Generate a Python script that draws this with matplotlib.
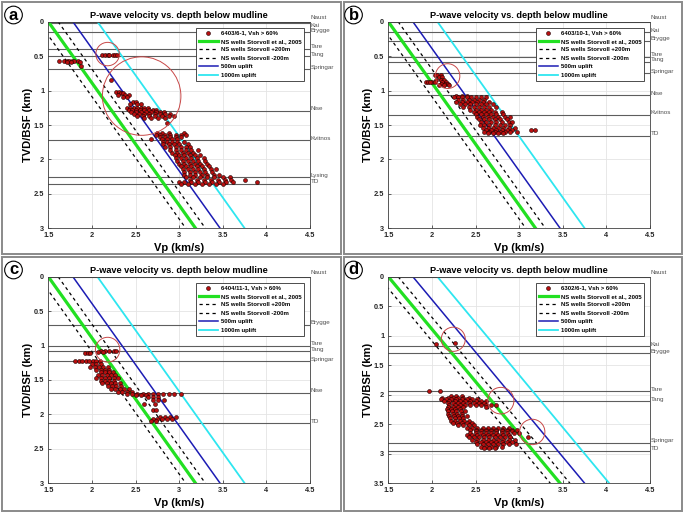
import numpy as np
import matplotlib
matplotlib.use("Agg")
import matplotlib.pyplot as plt
from matplotlib.patches import Ellipse, Rectangle

plt.rcParams['font.family'] = ['Liberation Sans', 'DejaVu Sans']

# ---------------- data ----------------
well_names = ['6403/6-1', '6403/10-1', '6404/11-1', '6302/6-1']
panel_letters = ['a', 'b', 'c', 'd']
depth_max = [3.0, 3.0, 3.0, 3.5]

# Storvoll et al. (2005) NS wells trend (end points)
trend_z = [0.0, 3.5]
trend_vp = [1.5, 3.47]
shift_plus200 = 0.2
shift_minus200 = -0.2
uplift_500 = 0.5
uplift_1000 = 1.0

# formation tops (depth km)
tops_a_names = ['Naust', 'Kai', 'Brygge', 'Tare', 'Tang', 'Springar', 'Nise', 'Kvitnos', 'Lysing', 'TD']
tops_a_depth = [0.0, 0.02, 0.155, 0.39, 0.50, 0.69, 1.295, 1.72, 2.26, 2.35]
tops_b_names = ['Naust', 'Kai', 'Brygge', 'Tare', 'Tang', 'Springar', 'Nise', 'Kvitnos', 'TD']
tops_b_depth = [0.0, 0.155, 0.275, 0.51, 0.58, 0.75, 1.07, 1.35, 1.655]
tops_c_names = ['Naust', 'Brygge', 'Tare', 'Tang', 'Springar', 'Nise', 'TD']
tops_c_depth = [0.0, 0.70, 1.0, 1.08, 1.23, 1.685, 2.13]
tops_d_names = ['Naust', 'Kai', 'Brygge', 'Tare', 'Tang', 'Springar', 'TD']
tops_d_depth = [0.0, 1.175, 1.30, 1.94, 2.11, 2.81, 2.95]

# log samples, Vsh > 60 %: rows of (depth km, [Vp km/s ...])
rows_a = [
    (0.57, [1.62, 1.68, 1.71, 1.74, 1.77, 1.80, 1.84]),
    (0.58, [1.72, 1.76, 1.86]),
    (0.65, [1.88]),
    (0.48, [2.12, 2.15, 2.18, 2.24, 2.27]),
    (0.49, [2.20, 2.29]),
    (0.85, [2.22]),
    (1.02, [2.28, 2.31]),
    (1.04, [2.33, 2.36]),
    (1.07, [2.30, 2.38, 2.42]),
    (1.10, [2.36, 2.40]),
    (1.16, [2.47, 2.50]),
    (1.19, [2.44, 2.52, 2.56]),
    (1.25, [2.40, 2.44, 2.48, 2.52, 2.56, 2.60, 2.64]),
    (1.28, [2.42, 2.46, 2.50, 2.55, 2.60, 2.65, 2.70, 2.74]),
    (1.31, [2.45, 2.50, 2.56, 2.62, 2.68, 2.73, 2.78, 2.83]),
    (1.34, [2.48, 2.54, 2.60, 2.66, 2.72, 2.78, 2.84, 2.90]),
    (1.37, [2.52, 2.58, 2.65, 2.72, 2.80, 2.88, 2.94]),
    (1.40, [2.60, 2.68, 2.76, 2.84]),
    (1.47, [2.86]),
    (1.62, [2.75, 2.80, 2.88, 3.05]),
    (1.65, [2.74, 2.78, 2.84, 2.90, 2.96, 3.02, 3.08]),
    (1.68, [2.78, 2.84, 2.90, 2.96, 3.02]),
    (1.71, [2.68, 2.80, 2.86, 2.92, 2.98]),
    (1.75, [2.82, 2.86, 2.92, 2.98, 3.05]),
    (1.78, [2.82, 2.88, 2.94, 3.00, 3.10]),
    (1.82, [2.84, 2.90, 2.96, 3.02, 3.08, 3.12]),
    (1.86, [2.90, 2.96, 3.02, 3.08, 3.14, 3.22]),
    (1.90, [2.92, 2.98, 3.04, 3.10, 3.16]),
    (1.94, [2.95, 3.00, 3.06, 3.12, 3.18, 3.24]),
    (1.98, [2.96, 3.02, 3.08, 3.14, 3.20, 3.28]),
    (2.02, [2.98, 3.04, 3.10, 3.16, 3.22, 3.30]),
    (2.06, [3.00, 3.06, 3.12, 3.18, 3.24, 3.32]),
    (2.10, [3.02, 3.08, 3.14, 3.20, 3.26, 3.34]),
    (2.14, [3.04, 3.10, 3.16, 3.22, 3.28, 3.36, 3.42]),
    (2.18, [3.05, 3.12, 3.18, 3.24, 3.30, 3.38]),
    (2.22, [3.06, 3.12, 3.18, 3.26, 3.32, 3.40, 3.46]),
    (2.26, [3.08, 3.16, 3.24, 3.32, 3.40, 3.50, 3.58]),
    (2.30, [3.12, 3.20, 3.28, 3.36, 3.44, 3.52, 3.60, 3.76]),
    (2.33, [3.00, 3.06, 3.14, 3.22, 3.30, 3.38, 3.46, 3.54, 3.62, 3.89]),
    (2.35, [3.02, 3.10, 3.18, 3.26, 3.34, 3.42, 3.50]),
]
rows_b = [
    (0.78, [2.03, 2.06, 2.10]),
    (0.80, [2.08, 2.12]),
    (0.85, [2.05, 2.10, 2.14]),
    (0.87, [1.93, 1.96, 2.00, 2.16]),
    (0.88, [1.98, 2.03, 2.12]),
    (0.90, [2.10, 2.15, 2.18]),
    (0.92, [2.08, 2.14, 2.20]),
    (1.08, [2.28, 2.34, 2.40]),
    (1.10, [2.25, 2.30, 2.35, 2.40, 2.45, 2.50, 2.56, 2.62]),
    (1.13, [2.30, 2.36, 2.42, 2.48, 2.54, 2.60]),
    (1.16, [2.28, 2.34, 2.40, 2.46, 2.52, 2.58, 2.66]),
    (1.20, [2.32, 2.38, 2.44, 2.50, 2.56, 2.62, 2.70]),
    (1.24, [2.36, 2.42, 2.48, 2.54, 2.60, 2.66, 2.74]),
    (1.28, [2.44, 2.50, 2.56, 2.62, 2.68]),
    (1.31, [2.48, 2.54, 2.60, 2.66, 2.72, 2.80]),
    (1.34, [2.50, 2.56, 2.62, 2.68, 2.74, 2.82]),
    (1.38, [2.52, 2.58, 2.64, 2.70, 2.76, 2.84, 2.90]),
    (1.42, [2.54, 2.60, 2.66, 2.72, 2.78, 2.86]),
    (1.46, [2.56, 2.62, 2.68, 2.74, 2.80, 2.88, 2.92]),
    (1.50, [2.55, 2.60, 2.66, 2.72, 2.78, 2.84, 2.90]),
    (1.54, [2.58, 2.64, 2.70, 2.76, 2.82, 2.88, 2.95]),
    (1.57, [2.62, 2.68, 2.74, 2.80, 2.86, 2.92, 3.14, 3.18]),
    (1.60, [2.60, 2.66, 2.72, 2.78, 2.84, 2.90, 2.98]),
    (1.62, [2.64, 2.70, 2.76, 2.82]),
]
rows_c = [
    (1.08, [2.10, 2.15, 2.20, 2.25, 2.28]),
    (1.09, [2.07, 2.13]),
    (1.11, [1.92, 1.95, 1.98]),
    (1.22, [1.81, 1.85, 1.89, 1.93, 1.97, 2.01, 2.05, 2.09]),
    (1.27, [2.00, 2.05, 2.10]),
    (1.31, [1.98, 2.03, 2.08, 2.13, 2.18]),
    (1.35, [2.05, 2.10, 2.15, 2.20]),
    (1.39, [2.10, 2.15, 2.20, 2.24]),
    (1.43, [2.07, 2.12, 2.17, 2.22, 2.27]),
    (1.47, [2.05, 2.10, 2.15, 2.20, 2.25, 2.30]),
    (1.51, [2.10, 2.15, 2.20, 2.25]),
    (1.55, [2.12, 2.17, 2.22, 2.27, 2.32]),
    (1.59, [2.18, 2.23, 2.28, 2.33]),
    (1.63, [2.22, 2.27, 2.32, 2.37, 2.42]),
    (1.67, [2.30, 2.35, 2.40, 2.46]),
    (1.70, [2.40, 2.46, 2.52, 2.58, 2.64, 2.70, 2.76, 2.82, 2.88, 2.94, 3.02]),
    (1.72, [2.50, 2.56, 2.62]),
    (1.75, [2.64, 2.70, 2.76]),
    (1.79, [2.70, 2.76, 2.83]),
    (1.85, [2.60, 2.72]),
    (1.93, [2.70, 2.74]),
    (2.04, [2.78, 2.84, 2.90, 2.96]),
    (2.07, [2.70, 2.75, 2.80, 2.86, 2.92]),
    (2.09, [2.68, 2.74]),
]
rows_d = [
    (1.13, [2.26]),
    (1.14, [2.05]),
    (1.94, [1.97, 2.09]),
    (2.02, [2.22, 2.28, 2.34]),
    (2.05, [2.12, 2.18, 2.24, 2.30, 2.36, 2.42]),
    (2.08, [2.10, 2.16, 2.22, 2.28, 2.34, 2.40, 2.46, 2.52]),
    (2.11, [2.14, 2.20, 2.26, 2.32, 2.38, 2.44, 2.50, 2.56, 2.62]),
    (2.14, [2.18, 2.24, 2.30, 2.36, 2.42, 2.48, 2.54, 2.60]),
    (2.17, [2.20, 2.26, 2.32, 2.38, 2.44, 2.50, 2.56, 2.62, 2.68, 2.74]),
    (2.20, [2.18, 2.24, 2.30, 2.36, 2.62]),
    (2.24, [2.17, 2.22, 2.27, 2.32]),
    (2.28, [2.18, 2.23, 2.28, 2.33, 2.38]),
    (2.32, [2.19, 2.24, 2.29, 2.34]),
    (2.36, [2.20, 2.25, 2.30, 2.35, 2.40]),
    (2.40, [2.21, 2.26, 2.31, 2.36]),
    (2.44, [2.22, 2.27, 2.32, 2.37, 2.42]),
    (2.48, [2.24, 2.29, 2.34, 2.40, 2.46]),
    (2.52, [2.30, 2.36, 2.42, 2.48]),
    (2.56, [2.40, 2.46, 2.52, 2.58, 2.64, 2.70, 2.76, 2.82, 2.88]),
    (2.59, [2.44, 2.50, 2.56, 2.62, 2.68, 2.74, 2.80, 2.86, 2.92, 2.98]),
    (2.62, [2.50, 2.56, 2.62, 2.68, 2.74, 2.80, 2.86, 2.92]),
    (2.65, [2.44, 2.50, 2.56, 2.62, 2.68, 2.74, 2.80, 2.86, 2.94, 3.00]),
    (2.68, [2.40, 2.46, 2.52, 2.58, 2.64, 2.70, 2.76, 2.82, 2.88]),
    (2.72, [2.42, 2.48, 2.54, 2.60, 2.66, 2.72, 2.78, 2.84, 2.90, 3.10]),
    (2.76, [2.46, 2.52, 2.58, 2.64, 2.70, 2.76, 2.82, 2.88, 2.95]),
    (2.80, [2.50, 2.56, 2.62, 2.68, 2.74, 2.80, 2.86, 2.92]),
    (2.84, [2.52, 2.58, 2.64, 2.70, 2.76, 2.82, 2.88, 2.96]),
    (2.88, [2.56, 2.62, 2.68, 2.74, 2.80]),
    (2.91, [2.60, 2.66, 2.72]),
]

# highlight circles: (Vp centre, depth centre, width Vp, height km)
circles_a = [(2.18, 0.47, 0.27, 0.34), (2.57, 1.08, 0.90, 1.14)]
circles_b = [(2.18, 0.79, 0.28, 0.36)]
circles_c = [(2.18, 1.06, 0.28, 0.36)]
circles_d = [(2.245, 1.06, 0.275, 0.41), (2.79, 2.10, 0.30, 0.45), (3.15, 2.63, 0.29, 0.43)]

all_rows = [rows_a, rows_b, rows_c, rows_d]
all_tops = [(tops_a_names, tops_a_depth), (tops_b_names, tops_b_depth),
            (tops_c_names, tops_c_depth), (tops_d_names, tops_d_depth)]
all_circles = [circles_a, circles_b, circles_c, circles_d]

# ---------------- figure ----------------
W, H = 685, 514
fig = plt.figure(figsize=(W / 100, H / 100), dpi=100)

origins = [(0, 0), (340, 0), (0, 255), (340, 255)]
ax_l, ax_r, ax_t, ax_b = 48.3, 310.0, 21.7, 228.3

frames = [(2, 2, 341, 254), (344, 2, 682, 254), (2, 257, 341, 511), (344, 257, 682, 511)]
for (x0, y0, x1, y1) in frames:
    fig.patches.append(Rectangle((x0 / W, 1 - y1 / H), (x1 - x0) / W, (y1 - y0) / H,
                                 transform=fig.transFigure, fill=False,
                                 ec='#8a8a8a', lw=1.4, zorder=0))

slope = (trend_vp[1] - trend_vp[0]) / (trend_z[1] - trend_z[0])
zz = np.array(trend_z)

def trend(shift):
    return trend_vp[0] + slope * (zz + shift)

for i in range(4):
    ox, oy = origins[i]
    left = (ox + ax_l) / W
    bottom = 1 - (oy + ax_b) / H
    width = (ax_r - ax_l) / W
    height = (ax_b - ax_t) / H
    ax = fig.add_axes([left, bottom, width, height])
    zmax = depth_max[i]

    ax.set_xlim(1.5, 4.5)
    ax.set_ylim(zmax, 0)
    ax.set_xticks([1.5, 2, 2.5, 3, 3.5, 4, 4.5])
    ax.set_xticklabels(['1.5', '2', '2.5', '3', '3.5', '4', '4.5'])
    yt = list(np.arange(0, zmax + 0.01, 0.5))
    ax.set_yticks(yt)
    ax.set_yticklabels(['%g' % v for v in yt])
    ax.grid(True, color='#e4e4e4', lw=0.6)
    ax.set_axisbelow(True)
    ax.tick_params(direction='in', length=2, width=0.5, labelsize=5.3,
                   colors='#262626', pad=3)
    for lab in ax.get_xticklabels() + ax.get_yticklabels():
        lab.set_fontweight('bold')
    for sp in ax.spines.values():
        sp.set_linewidth(0.6)
        sp.set_color('#404040')

    # formation tops
    names, depths = all_tops[i]
    for k, (nm, d) in enumerate(zip(names, depths)):
        ax.axhline(d, color='#5e5e5e', lw=0.8, zorder=1)
        dy = 1.4
        if nm == 'Naust':
            dy = 2.8
        elif k > 0 and d - depths[k - 1] < 0.05:
            dy = -1.6
        ax.annotate(nm, xy=(1.0, d), xycoords=('axes fraction', 'data'),
                    xytext=(0.5, dy), textcoords='offset points',
                    ha='left', va='center', fontsize=4.5, color='#505050',
                    annotation_clip=False)

    # scatter
    xs, ys = [], []
    for d, vps in all_rows[i]:
        for v in vps:
            xs.append(v)
            ys.append(d)
    sc = ax.scatter(xs, ys, s=8, c='#b80f0f', edgecolors='#1a0000', linewidths=0.4,
                    zorder=3, label='%s, Vsh > 60%%' % well_names[i])

    # trend lines
    l1, = ax.plot(trend(0), zz, color='#22e022', lw=2.3, zorder=2,
                  label='NS wells Storvoll et al., 2005')
    l2, = ax.plot(trend(shift_plus200), zz, color='black', lw=0.9, ls=(0, (2.6, 2.6)),
                  zorder=2, label='NS wells Storvoll +200m')
    l3, = ax.plot(trend(shift_minus200), zz, color='black', lw=0.9, ls=(0, (2.6, 2.6)),
                  zorder=2, label='NS wells Storvoll -200m')
    l4, = ax.plot(trend(uplift_500), zz, color='#1c1cb4', lw=1.1, zorder=2,
                  label='500m uplift')
    l5, = ax.plot(trend(uplift_1000), zz, color='#2ee6f0', lw=1.3, zorder=2,
                  label='1000m uplift')

    # circles
    for (cx, cy, cw, ch) in all_circles[i]:
        ax.add_patch(Ellipse((cx, cy), cw, ch, fill=False, ec='#c84848', lw=0.7, zorder=4))

    leg = ax.legend(handles=[sc, l1, l2, l3, l4, l5], loc='upper right',
                    bbox_to_anchor=(0.977, 0.971), borderaxespad=0,
                    fontsize=4.3, handlelength=3.3, labelspacing=0.55,
                    borderpad=0.45, handletextpad=0.4, fancybox=False,
                    framealpha=1, edgecolor='#303030', scatterpoints=1)
    leg.get_frame().set_linewidth(0.6)
    for t in leg.get_texts():
        t.set_fontweight('bold')

    ax.set_title('P-wave velocity vs. depth below mudline', fontsize=6.6,
                 fontweight='bold', pad=2.5)
    ax.set_xlabel('Vp (km/s)', fontsize=8, fontweight='bold')
    ax.set_ylabel('TVD/BSF (km)', fontsize=8, fontweight='bold')
    ax.xaxis.set_label_coords(0.5, -0.07)
    ax.yaxis.set_label_coords(-0.06, 0.5)

    # panel letter
    fig.text((ox + 13.5) / W, 1 - (oy + 15) / H, panel_letters[i], fontsize=12,
             fontweight='bold', ha='center', va='center',
             bbox=dict(boxstyle='circle,pad=0.08', fc='white', ec='black', lw=0.8))

fig.savefig('out.png', dpi=100)
